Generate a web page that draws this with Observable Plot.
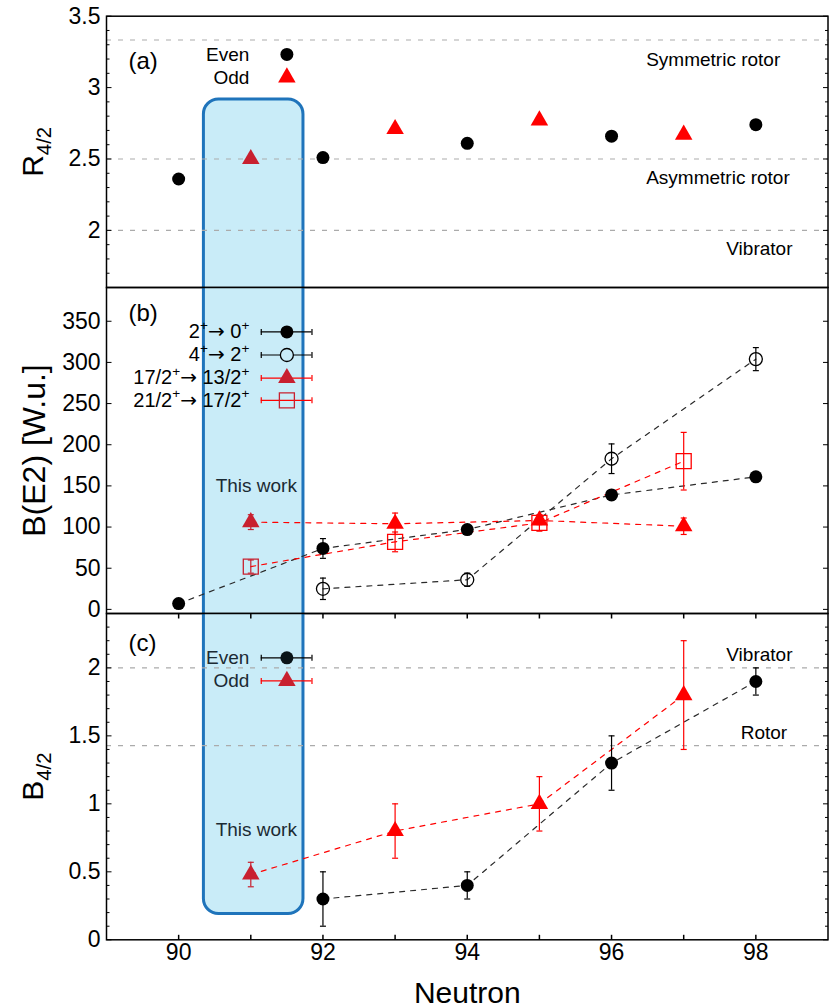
<!DOCTYPE html>
<html><head><meta charset="utf-8">
<script src="https://cdn.jsdelivr.net/npm/d3@7"></script>
<script src="https://cdn.jsdelivr.net/npm/@observablehq/plot@0.6"></script>
<style>
html,body{margin:0;padding:0;background:#fff;overflow:hidden;}
#chart svg{display:block;}
</style></head><body><div id="chart"></div>
<script>
// ---------- data ----------
const nEven = [90, 92, 94, 96, 98];
const nOdd = [91, 93, 95, 97];
const r42Even = [2.36, 2.51, 2.61, 2.66, 2.74];
const r42Odd = [2.50, 2.71, 2.77, 2.67];

const be2_20 = [7, 74, 97, 139, 161];
const be2_20err = [2, 12, 4, 5, 4];
const n42 = [92, 94, 96, 98];
const be2_42 = [25, 36, 183, 304];
const be2_42err = [13, 8, 18, 14];
const be2_17 = [106, 104, 108, 101];
const be2_17err = [9, 13, 5, 10];
const be2_21 = [52, 82, 105, 180];
const be2_21err = [8, 12, 10, 35];

const nEvenB = [92, 94, 96, 98];
const b42Even = [0.3, 0.4, 1.3, 1.9];
const b42EvenErr = [0.2, 0.1, 0.2, 0.1];
const b42Odd = [0.48, 0.8, 1.0, 1.8];
const b42OddErr = [0.09, 0.2, 0.2, 0.4];

const rRefValues = [10 / 3, 2.5, 2];
const rRefLabels = ["Symmetric rotor", "Asymmetric rotor", "Vibrator"];
const bRefValues = [2, 10 / 7];
const bRefLabels = ["Vibrator", "Rotor"];

const legendA = ["Even", "Odd"];
const legendB = ["2^{+}→ 0^{+}", "4^{+}→ 2^{+}", "17/2^{+}→ 13/2^{+}", "21/2^{+}→ 17/2^{+}"];
const legendC = ["Even", "Odd"];

const yTicksA = [2, 2.5, 3, 3.5];
const yTicksB = [0, 50, 100, 150, 200, 250, 300, 350];
const yTicksC = [0, 0.5, 1, 1.5, 2];
const xTicks = [90, 92, 94, 96, 98];
const xMinorTicks = [91, 93, 95, 97];

const thisWorkN = 91;
const highlightRange = [90.35, 91.73];

// ---------- styles ----------
const red = "#ff0000", darkRed = "#c8202f", ink = "#1b2a33";
const blueFill = "#c9ecf8", blueStroke = "#1f74bb", refGray = "#ababab";
const FONT = "'Liberation Sans', Arial, Helvetica, sans-serif";
const xDomain = [89, 99];
const rows = (n, v, e) => n.map((d, i) => ({n: d, v: v[i], e: e ? e[i] : 0}));
const colorOf = base => d => d.n === thisWorkN ? darkRed : base;

// tick / cap symbols (length = r)
const len = size => Math.sqrt(size / Math.PI);
const symRight = {draw(c, s) { c.moveTo(0, 0); c.lineTo(len(s), 0); }};
const symLeft = {draw(c, s) { c.moveTo(0, 0); c.lineTo(-len(s), 0); }};
const symUp = {draw(c, s) { c.moveTo(0, 0); c.lineTo(0, -len(s)); }};
const symDown = {draw(c, s) { c.moveTo(0, 0); c.lineTo(0, len(s)); }};
const capH = {draw(c, s) { const l = len(s); c.moveTo(-l, 0); c.lineTo(l, 0); }};
const capV = {draw(c, s) { const l = len(s); c.moveTo(0, -l); c.lineTo(0, l); }};

function yTickMarks(major, minor) {
  const o = {fill: "none", stroke: "black", strokeWidth: 1};
  const m = [
    Plot.dot(major, {x: xDomain[0], y: d => d, symbol: symRight, r: 5, ...o}),
    Plot.dot(major, {x: xDomain[1], y: d => d, symbol: symLeft, r: 5, ...o})
  ];
  if (minor.length) m.push(
    Plot.dot(minor, {x: xDomain[0], y: d => d, symbol: symRight, r: 3, ...o}),
    Plot.dot(minor, {x: xDomain[1], y: d => d, symbol: symLeft, r: 3, ...o})
  );
  return m;
}
function errorBars(data, stroke, capR = 3) {
  return [
    Plot.ruleX(data, {x: "n", y1: d => d.v - d.e, y2: d => d.v + d.e, stroke, strokeWidth: 1.2}),
    Plot.dot(data, {x: "n", y: d => d.v - d.e, symbol: capH, r: capR, stroke, fill: "none", strokeWidth: 1.2}),
    Plot.dot(data, {x: "n", y: d => d.v + d.e, symbol: capH, r: capR, stroke, fill: "none", strokeWidth: 1.2})
  ];
}
function legendBar(ys, stroke) {
  const d = ys.map(y => ({y}));
  return [
    Plot.ruleY(d, {y: "y", x1: 91.145, x2: 91.848, stroke, strokeWidth: 1.2}),
    Plot.dot(d, {x: 91.145, y: "y", symbol: capV, r: 3, stroke, fill: "none", strokeWidth: 1.2}),
    Plot.dot(d, {x: 91.848, y: "y", symbol: capV, r: 3, stroke, fill: "none", strokeWidth: 1.2})
  ];
}
function yLabel(text, fontSize, dx) {
  return Plot.text([text], {text: d => d, frameAnchor: "left", rotate: -90, dx, fontSize, textAnchor: "middle", lineAnchor: "middle", fill: "black"});
}
function panelTag(text, dy) {
  return Plot.text([text], {text: d => d, frameAnchor: "top-left", textAnchor: "start", lineAnchor: "middle", dx: 22, dy, fontSize: 24, fill: "black"});
}
const base = {
  width: 829, marginLeft: 106, marginRight: 1.5,
  style: {fontFamily: FONT, background: "transparent", overflow: "visible", color: "black"}
};
const box = [{x1: highlightRange[0], x2: highlightRange[1]}];
const boxOpts = {x1: "x1", x2: "x2", fill: blueFill, stroke: blueStroke, strokeWidth: 3, rx: 15, clip: true};
const frame = Plot.frame({stroke: "black", strokeWidth: 1.5});
const axisOpts = {tickSize: 0, tickPadding: 6, fontSize: 23, label: null, tickFormat: d => String(d)};
const dash = "5,6";
const lineGray = "#2a2a2a";

// ---------- panel (a) ----------
const evenA = rows(nEven, r42Even), oddA = rows(nOdd, r42Odd);
const minorA = d3.range(16, 36).map(d => d / 10).filter(d => !yTicksA.includes(d));
const legAY = [3.232, 3.071];
const plotA = Plot.plot({
  ...base, height: 287, marginTop: 15.7, marginBottom: 0,
  x: {domain: xDomain, axis: null},
  y: {domain: [1.6, 3.5]},
  marks: [
    Plot.rect(box, {...boxOpts, y1: 2.917, y2: 0}),
    Plot.ruleY(rRefValues, {stroke: refGray, strokeDasharray: "5,7", strokeWidth: 1.2}),
    ...yTickMarks(yTicksA, minorA),
    Plot.axisY(yTicksA, axisOpts),
    Plot.dot(evenA, {x: "n", y: "v", r: 6.5, fill: "black"}),
    Plot.dot(oddA, {x: "n", y: "v", r: 6.5, symbol: "triangle", fill: colorOf(red)}),
    Plot.text(legendA, {x: 90.98, y: (d, i) => legAY[i], text: d => d, textAnchor: "end", fontSize: 19, fill: "black"}),
    Plot.dot([legAY[0]], {x: 91.5, y: d => d, r: 6.5, fill: "black"}),
    Plot.dot([legAY[1]], {x: 91.5, y: d => d, r: 6.5, symbol: "triangle", fill: red}),
    Plot.text(rRefLabels, {x: [96.48, 96.48, 97.59], y: [3.197, 2.37, 1.873], text: d => d, textAnchor: "start", fontSize: 19, fill: "black"}),
    frame,
    yLabel("R_{4/2}", 30, -73),
    panelTag("(a)", 45)
  ]
});

// ---------- panel (b) ----------
const gs = rows(nEven, be2_20, be2_20err);
const gb = rows(n42, be2_42, be2_42err);
const tri = rows(nOdd, be2_17, be2_17err);
const sq = rows(nOdd, be2_21, be2_21err);
const legBY = [337, 309, 281, 254];
const plotB = Plot.plot({
  ...base, height: 326, marginTop: 0, marginBottom: 0,
  x: {domain: xDomain, axis: null},
  y: {domain: [-5, 391]},
  marks: [
    Plot.rect(box, {...boxOpts, y1: -200, y2: 600}),
    ...yTickMarks(yTicksB, []),
    Plot.axisY(yTicksB, axisOpts),
    Plot.line(gs, {x: "n", y: "v", stroke: lineGray, strokeDasharray: dash, strokeWidth: 1.2}),
    Plot.line(gb, {x: "n", y: "v", stroke: lineGray, strokeDasharray: dash, strokeWidth: 1.2}),
    Plot.line(tri, {x: "n", y: "v", stroke: red, strokeDasharray: dash, strokeWidth: 1.2}),
    Plot.line(sq, {x: "n", y: "v", stroke: red, strokeDasharray: dash, strokeWidth: 1.2}),
    ...errorBars(gs, "black"),
    ...errorBars(gb, "black"),
    ...errorBars(tri, colorOf(red)),
    ...errorBars(sq, colorOf(red)),
    Plot.dot(gs, {x: "n", y: "v", r: 6.5, fill: "black"}),
    Plot.dot(gb, {x: "n", y: "v", r: 6.5, fill: "none", stroke: "black", strokeWidth: 1.3}),
    Plot.dot(tri, {x: "n", y: "v", r: 6.5, symbol: "triangle", fill: colorOf(red)}),
    Plot.dot(sq, {x: "n", y: "v", r: 8.46, symbol: "square", fill: "none", stroke: colorOf(red), strokeWidth: 1.3}),
    Plot.text(["This work"], {x: 91.076, y: 150.5, text: d => d, fontSize: 19, fill: ink}),
    Plot.text(legendB, {x: 90.98, y: (d, i) => legBY[i], text: d => d, textAnchor: "end", fontSize: 20, fill: "black"}),
    ...legendBar(legBY.slice(0, 2), "black"),
    ...legendBar(legBY.slice(2), red),
    Plot.dot([legBY[0]], {x: 91.5, y: d => d, r: 6.5, fill: "black"}),
    Plot.dot([legBY[1]], {x: 91.5, y: d => d, r: 6.5, fill: blueFill, stroke: "black", strokeWidth: 1.3}),
    Plot.dot([legBY[2]], {x: 91.5, y: d => d, r: 6.5, symbol: "triangle", fill: darkRed}),
    Plot.dot([legBY[3]], {x: 91.5, y: d => d, r: 8.46, symbol: "square", fill: "none", stroke: darkRed, strokeWidth: 1.3}),
    frame,
    yLabel("B(E2) [W.u.]", 32, -72),
    panelTag("(b)", 26)
  ]
});

// ---------- panel (c) ----------
const evenC = rows(nEvenB, b42Even, b42EvenErr);
const oddC = rows(nOdd, b42Odd, b42OddErr);
const minorC = d3.range(0, 25).map(d => d / 10).filter(d => !yTicksC.includes(d));
const legCY = [2.074, 1.904];
const xAll = [...xTicks, ...xMinorTicks];
const plotC = Plot.plot({
  ...base, height: 395, marginTop: 0, marginBottom: 68.7,
  x: {domain: xDomain},
  y: {domain: [0, 2.4]},
  marks: [
    Plot.rect(box, {...boxOpts, y1: 0.19, y2: 5}),
    Plot.ruleY(bRefValues, {stroke: refGray, strokeDasharray: "5,7", strokeWidth: 1.2}),
    ...yTickMarks(yTicksC, minorC),
    Plot.dot(xAll, {x: d => d, y: 0, symbol: symUp, r: 5, fill: "none", stroke: "black"}),
    Plot.dot(xAll, {x: d => d, y: 2.4, symbol: symDown, r: 5, fill: "none", stroke: "black"}),
    Plot.axisY(yTicksC, axisOpts),
    Plot.axisX(xTicks, {tickSize: 0, tickPadding: 4, fontSize: 23, label: null}),
    Plot.line(evenC, {x: "n", y: "v", stroke: lineGray, strokeDasharray: dash, strokeWidth: 1.2}),
    Plot.line(oddC, {x: "n", y: "v", stroke: red, strokeDasharray: dash, strokeWidth: 1.2}),
    ...errorBars(evenC, "black"),
    ...errorBars(oddC, colorOf(red)),
    Plot.dot(evenC, {x: "n", y: "v", r: 6.5, fill: "black"}),
    Plot.dot(oddC, {x: "n", y: "v", r: 6.5, symbol: "triangle", fill: colorOf(red)}),
    Plot.text(["This work"], {x: 91.076, y: 0.805, text: d => d, fontSize: 19, fill: ink}),
    Plot.text(legendC, {x: 90.98, y: (d, i) => legCY[i], text: d => d, textAnchor: "end", fontSize: 19, fill: ink}),
    ...legendBar([legCY[0]], "black"),
    ...legendBar([legCY[1]], red),
    Plot.dot([legCY[0]], {x: 91.5, y: d => d, r: 6.5, fill: "#0a1418"}),
    Plot.dot([legCY[1]], {x: 91.5, y: d => d, r: 6.5, symbol: "triangle", fill: darkRed}),
    Plot.text(bRefLabels, {x: [97.59, 97.79], y: [2.099, 1.521], text: d => d, textAnchor: "start", fontSize: 19, fill: "black"}),
    frame,
    yLabel("B_{4/2}", 30, -73),
    panelTag("(c)", 30),
    Plot.text(["Neutron"], {text: d => d, frameAnchor: "bottom", lineAnchor: "middle", dy: 54, fontSize: 30, fill: "black"})
  ]
});

const chart = document.getElementById("chart");
chart.append(plotA, plotB, plotC);

// rich text: sub/superscripts and a wider arrow glyph
function richify(root) {
  root.querySelectorAll("text").forEach(t => {
    const s = t.textContent;
    if (!/[_^]\{/.test(s)) return;
    const fs = parseFloat(getComputedStyle(t).fontSize) || 18;
    t.textContent = "";
    const re = /([_^])\{([^}]*)\}|(→)|([^_^→]+)/g;
    let m, shift = 0;
    while ((m = re.exec(s))) {
      const ts = document.createElementNS("http://www.w3.org/2000/svg", "tspan");
      let target = 0;
      if (m[1]) {
        target = m[1] === "^" ? -0.42 * fs : 0.25 * fs;
        ts.setAttribute("font-size", 0.68 * fs);
        ts.textContent = m[2];
      } else if (m[3]) {
        ts.setAttribute("font-family", "DejaVu Sans");
        ts.textContent = m[3];
      } else ts.textContent = m[4];
      const dy = target - shift;
      if (dy) ts.setAttribute("dy", dy);
      shift = target;
      t.appendChild(ts);
    }
  });
}
richify(chart);
</script></body></html>
